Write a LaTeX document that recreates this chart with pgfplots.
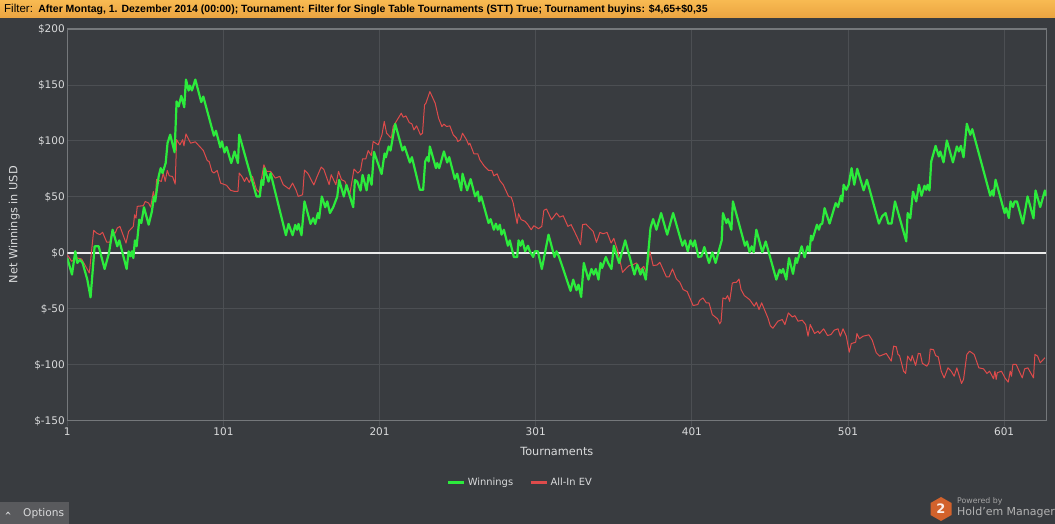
\documentclass[border=0pt]{standalone}
\usepackage{pgfplots}
\usepackage{fontspec}
\setmainfont{DejaVu Sans}
\newfontfamily\barfont{Liberation Sans}
\pgfplotsset{compat=1.18}
\definecolor{bg}{HTML}{393C40}
\definecolor{gridc}{HTML}{4C4F53}
\definecolor{axc}{HTML}{75787B}
\definecolor{txt}{HTML}{DADBDC}
\definecolor{grn}{HTML}{2CEB3C}
\definecolor{rd}{HTML}{DE4B4B}
\definecolor{bart}{HTML}{F8BA52}
\definecolor{barb}{HTML}{EBA441}
\definecolor{logoc}{HTML}{D2622C}
\begin{document}
\begin{tikzpicture}[x=1pt,y=1pt]
\fill[bg] (0,0) rectangle (1055,524);
\shade[top color=bart,bottom color=barb] (0,506) rectangle (1055,524);
\node[anchor=west,inner sep=0pt,font=\barfont\fontsize{10.5}{12}\selectfont,text=black] at (4,515) {\fontsize{11.5}{12}\selectfont Filter:\hspace{1.5pt}\fontsize{10.5}{12}\selectfont\textbf{ After Montag, 1. Dezember 2014 (00:00); Tournament: Filter for Single Table Tournaments (STT) True; Tournament buyins: \$4,65+\$0,35}};
\fill[gray!45!bg] (0,0) rectangle (69,22);
\node[anchor=west,inner sep=0pt,font=\fontsize{10.6}{12}\selectfont,text=txt] at (23,10.5) {Options};
\fill[txt] (5.5,9.5) -- (8,12.5) -- (10.5,9.5) -- (9.5,9.5) -- (8,11) -- (6.5,9.5) -- cycle;
\fill[logoc] (941,27) -- (951.5,21) -- (951.5,9) -- (941,3) -- (930.5,9) -- (930.5,21) -- cycle;
\node[inner sep=0pt,font=\bfseries\fontsize{13}{13}\selectfont,text=white!90!logoc] at (941,15) {2};
\node[anchor=west,inner sep=0pt,font=\fontsize{7.8}{9}\selectfont,text=gray!70!white] at (957,23) {Powered by};
\node[anchor=west,inner sep=0pt,font=\fontsize{11}{12}\selectfont,text=gray!60!white] at (957,11.5) {Hold'em Manager};
\begin{axis}[
 at={(67.3pt,103.6pt)},anchor=south west,
 scale only axis,width=979pt,height=391.4pt,
 xmin=1,xmax=628,ymin=-150,ymax=200,
 axis background/.style={fill=bg},
 axis line style={color=axc,line width=1.6pt},
 grid=major,grid style={gridc,line width=0.8pt},
 tick align=outside,
 major tick length=6pt,
 x tick style={gridc,line width=0.8pt},
 y tick style={draw=none},
 xtick pos=bottom,ytick pos=left,
 xtick={1,101,201,301,401,501,601},
 xticklabels={1,101,201,301,401,501,601},
 ytick={-150,-100,-50,0,50,100,150,200},
 yticklabels={\$-150,\$-100,\$-50,\$0,\$50,\$100,\$150,\$200},
 tick label style={text=txt,font=\fontsize{10.5}{11}\selectfont},
 xticklabel style={yshift=2.5pt},
 yticklabel style={xshift=7pt,yshift=-0.5pt},
 xlabel={Tournaments},ylabel={Net Winnings in USD},
 label style={text=txt,font=\fontsize{11.3}{13}\selectfont},
 xlabel style={at={(axis description cs:0.5,0)},anchor=center,yshift=-31pt},
 ylabel style={at={(axis description cs:0,0.5)},anchor=center,yshift=53pt},
 legend style={at={(0.4625,-0.159)},anchor=center,fill=none,draw=none,legend columns=2,
   font=\fontsize{9.9}{11}\selectfont,text=txt,inner sep=0pt,
   /tikz/every even column/.append style={column sep=14pt}},
 legend image code/.code={\draw[#1,line width=3pt] (0,0) -- (16.5pt,0);},
 clip=true,
]
\addplot[white!92!black,line width=2pt,forget plot] coordinates {(1,0)(628,0)};
\addplot[rd,line width=1pt,line join=round,forget plot] coordinates {
(1,-1.8)(3.8,-7.7)(5.3,-6.3)(6.1,-3.3)(7.4,-4.8)(10.2,-5.7)(15.1,-18.2)(17.9,19.9)(19.8,17.5)(21.9,16.1)(23.6,18.2)(26.2,9.5)(28.3,9.5)(29.6,19)(31.7,17.5)(33,22)(34.7,23.5)(38.6,8.6)(40.3,19)(43.3,23.5)(44.1,33.9)(45,30.9)(45.8,41.4)(49.7,42)(50.9,45.8)(53.1,44.3)(54.4,40.8)(56.1,54.6)(57.3,47.2)(58.2,65.5)(61.2,63.7)(62.5,71.1)(63.7,63.7)(65,73.5)(66.3,68.7)(68.4,68.1)(70.1,61.3)(71,101.1)(73.1,96.4)(74.9,101)(75.7,95.5)(77,106.2)(80,97.9)(83,99.1)(88.1,91.4)(90.6,82.5)(91.9,81.3)(93.6,72.7)(94.9,71.2)(97,73.5)(99.2,62.2)(103,60.2)(105.6,55.7)(108.1,54.8)(110.3,54.8)(111.1,71.2)(112.8,68.2)(114.5,63.7)(115.8,67.3)(117.5,62.8)(119.6,68.2)(122.2,56.3)(123.9,53.9)(126.9,78.6)(128.6,72.7)(131.2,72.7)(134.2,66.7)(137.1,68.2)(139.3,60.8)(143.1,56.9)(145.3,62.2)(147.4,56.3)(148.9,50.3)(151.7,51.8)(152.9,73.8)(155.1,70.8)(158.9,60.5)(161,68.1)(163.6,76.5)(165.3,74.4)(168.7,60.8)(170,69.7)(173,60.8)(174.7,72.7)(176.6,65.3)(178.8,63.8)(182,52.7)
(184.6,74.7)(187.1,71.1)(188.8,73.5)(190.1,83.9)(192.2,83.9)(193.7,91.3)(195.7,86.8)(196.9,99.4)(200.1,96.4)(202.5,105.3)(204,117.3)(205.5,106.8)(208.5,102.3)(209.7,112.8)(214.9,124.7)(216.1,121.1)(217.9,122.3)(220,116.3)(221.7,115.2)(223,109.8)(224.7,113.4)(227.2,105.3)(228.5,106.8)(229.8,132.2)(230.7,133.7)(233.2,144)(236.6,133.7)(238.8,120.2)(240.9,112.8)(242.2,114.9)(243.9,112.8)(246,113.4)(248.2,105.3)(250.3,102.3)(251.1,99.4)(252.8,100.9)(254.1,106.8)(256.7,100.9)(258,96.4)(258.8,97.9)(261.4,88.4)(263.9,88.4)(265.2,83.1)(268.2,77.1)(270.8,73.5)(272.9,73.5)(274.2,68.7)(276.3,70.5)(278,64.5)(280.2,60.7)(283.6,50.3)(285.3,49.7)(286.6,44.3)(289.1,25.9)(290,34.8)(291.7,29.5)(294.2,28)(296,25)(298.1,20.5)(299.8,24.1)(302.8,21.4)(304.9,23.5)(306.2,37.8)(307.9,39)(311.1,29.5)(314.3,35.4)(316.4,31.8)(318.6,33)(321.6,23.5)(323.7,25)(327.1,15.2)(329.7,7.1)(331,25)(333.1,25.6)(335.6,22)(337.8,19)(339.9,9.2)(342.1,18.1)(344.2,16.9)(346.7,18.1)(349.3,8.6)(351,12.8)(353.6,1.2)(356.6,-17.6)(359.1,-13.7)(360.8,-11.6)(363.4,-10.7)(365.5,-9.2)(368.1,-15.2)(370.2,-12.2)(371.9,-18.2)(374.1,1.2)(376.2,-11.6)(378.8,-11)(380.5,-8.6)(384.7,-21.7)(386.4,-21.7)(388.6,-14.6)(391.1,-23.5)(393.3,-26.5)(395.4,-33)(398,-34.8)(401.8,-47.3)(404.8,-46.4)(406,-42.6)
(408.1,-40.5)(410.3,-45)(412,-45)(414.1,-55.4)(417.5,-59.2)(418.8,-63.7)(419.7,-61.6)(420.9,-40.5)(422.6,-41.4)(423.9,-38.4)(425.2,-43.5)(426.9,-27.2)(428.2,-26.6)(429.5,-26.6)(431.2,-23.6)(432.5,-33)(434.6,-38.4)(438,-42)(441,-47.9)(442.3,-44.3)(444,-50.9)(445.7,-44.9)(449.7,-58.3)(451.2,-65.2)(452.9,-67.6)(456.1,-61.3)(458.9,-59.8)(460.6,-64.3)(462.8,-53.9)(465.3,-57.5)(467,-56.3)(469,-61.3)(471.7,-60.4)(473.9,-64.3)(475.4,-74.7)(476.8,-64.3)(479.6,-72.3)(481.8,-70.2)(482.8,-72.3)(485.4,-68.1)(487.9,-74.1)(490.1,-73.2)(492.2,-69.3)(494.6,-68.1)(496.1,-74.7)(497.8,-68.1)(499.9,-74.7)(501.8,-89)(503.1,-81.3)(505.9,-80.1)(506.7,-72.3)(508.4,-77)(510.6,-74.7)(514.4,-73.5)(516.5,-78.2)(519.1,-89.5)(521.2,-92.5)(525.5,-90.1)(528.7,-97)(530.2,-83.6)(531.9,-84.2)(533,-91)(534,-92)(536.6,-106)(537.9,-108)(539.2,-92.5)(541.3,-97)(542.1,-92)(544.3,-100.9)(546,-90.1)(547.3,-90.4)(548.6,-99)(551.5,-101.5)(552.8,-98.5)(553.7,-86.2)(555.8,-86.8)(557.1,-92)(558.8,-93.2)(560.7,-106)(562.6,-112)(565,-103)(567.1,-106)(569,-110.5)(570.7,-103)(573.7,-117)(575,-113.4)(577.1,-91)(578.9,-88.1)(581.8,-91)(584.8,-103)(587.8,-103.9)(590,-108)(591.7,-106)(594.2,-112.8)(595.1,-106)(595.9,-113.4)(596.6,-107.4)(599.3,-106)(601.5,-112)(603.6,-115.8)(604.9,-106)(605.7,-110.5)(606.6,-100)(608.7,-100)(612.6,-112)(614.1,-103.9)(616.2,-103)(619.8,-112)(620.7,-91)(622.4,-92.5)(624.1,-98.5)(627.1,-94)
};
\addplot[grn,line width=2.2pt,line join=round] coordinates {
(1,-4.8)(4,-19.6)(6.1,1.2)(7.4,-9.2)(9.1,-6.3)(10.8,-9.2)(13.8,-24)(15.9,-40)(18.5,5.7)(21.1,5.7)(24.9,-14.6)(27.7,-0.3)(30,20.5)(33,5.7)(34.3,11)(39,-14.6)(40.3,1.2)(41.5,-3.3)(42.4,1.2)(43.3,-4.8)(44.3,11)(45.4,5.7)(47.1,29.5)(48.4,26.5)(50.1,40.6)(53.1,25)(55.2,37)(56.5,50.2)(57.3,45.8)(59.5,68.1)(60.8,75.6)(62,71.1)(64,80.1)(65.2,98)(66.9,105.5)(69.7,89.8)(71,135.2)(72.3,130.7)(74,140.2)(75.9,130)(77,154.8)(78.7,145)(79.5,149.4)(80.8,145)(83,154.8)(86.8,134.6)(88.1,139.6)(94.9,104.6)(96.2,109)(99,94.2)(100,99.5)(101.7,89.6)(103,94.6)(106,80.1)(108.1,90.5)(110.3,80.1)(111.1,105.5)(122.2,50.2)(124.3,50.2)(125.4,65)(126.5,60.5)(127.3,75.4)(129.9,63.5)(131.2,71)(141,15.6)(142.7,25.7)(145.3,15.6)(147,24.8)(148.2,20.4)(149.1,25.7)(151,15.6)(152.9,45.8)(156.8,25.7)(158.5,30.8)(159.8,25.7)(161.5,35.4)(162.3,30.8)(164,50.2)(166.2,40.6)(167.5,45.8)(169.2,35.4)(171.3,40.6)(173.9,50.2)(175.1,65)(178.1,50.2)(179.8,60.5)(182,50.3)
(184.1,40.7)(185.2,65)(186.7,63.5)(188.8,55.5)(190.1,69.5)(192.7,55.7)(194,69.6)(195.9,60.7)(197.4,90.2)(202.3,70.3)(204.2,88.7)(205,85.2)(206.8,94.9)(208,91.3)(211,115.2)(215.7,91.3)(217,94.9)(220.4,80.6)(221.7,85.4)(226.8,56.2)(228.9,56.2)(230.2,81.5)(231.5,85.4)(232.4,81.5)(233.2,94.9)(237.1,75.6)(237.9,80.1)(239.2,75.6)(242.2,90.5)(244.3,80.6)(245.6,85.4)(249.2,65.8)(250.7,70.6)(253.3,55.7)(254.1,70.6)(257.1,55.7)(259.3,65.8)(262.2,50.3)(263.9,54.7)(264.8,45.8)(266.1,50.3)(270.8,26.5)(272.1,30)(274.2,20.5)(275.5,25.9)(276.7,20.5)(278,25)(279.1,16.1)(280.6,20.5)(283.2,6.2)(284.4,11)(287,-3.9)(289.1,-3.9)(290,11)(291.3,6.2)(292.5,11)(294.2,1.2)(296,6.2)(297.2,1.2)(299.4,-3.9)(300.4,1.2)(302.4,1.2)(304.9,-14.6)(309.2,16.1)(313,-3.9)(314.3,1.2)(316,-3.9)(323.3,-34.2)(325,-24.1)(327.1,-33.6)(328.4,-28.6)(330.1,-39.6)(331.8,-9.2)(334.8,-24.1)(336.7,-14.6)(338.2,-19.6)(339.5,-14.6)(341.2,-24.1)(342.5,-9.2)(343.5,-13.7)(345.9,-3.9)(347.4,-9.2)(349.5,-14.6)(351,6.2)(354.4,-9.2)(358.3,11)(364.2,-19.6)(366,-10.7)(368.1,-19.6)(369.4,-14.6)(371.5,-24.1)(374.5,22)(376.2,30)(378.3,20.5)(381.3,35.4)(385.2,16.1)(389,35.4)(395,6.2)(396.5,11)(398.4,1.2)(400.1,11)(401.8,5.6)(402.9,11)(405.2,-3.9)
(407.1,-3.3)(409,5)(412,-9.2)(414.1,0.3)(416.2,-9.2)(420.1,11)(420.9,35.4)(423.1,26.5)(424.1,30)(426.3,20.5)(427.3,45.8)(435,6.2)(436.3,10)(438,0.3)(439.3,5.7)(440.6,0.3)(442.3,20.5)(446.1,0.3)(448.3,10)(455.1,-24.1)(457.2,-15.2)(458.3,-18.1)(459.4,-14.6)(461.5,-24.1)(463.2,-4.8)(465.8,-19)(467.5,-4.8)(468.3,-9.2)(471.3,5.7)(473.2,-4.2)(475.1,5.7)(476.4,1.2)(477.3,15.2)(478.1,11)(481.1,25)(482.4,20.5)(483.3,25)(484.5,26)(486,39.8)(489.2,26)(493.1,44.3)(494.6,40.8)(496.5,50.9)(497.3,45.8)(498.2,60.7)(499.9,56.2)(501.4,60.7)(503.3,75.6)(505,60.7)(506.9,75)(511,55.7)(513.1,65.2)(520.8,26)(522.9,32.6)(525.1,35.4)(526.8,26)(528.9,26)(531.1,45.8)(538.3,10.1)(539.2,35.4)(540.9,30.8)(542.6,54.6)(544.7,45.8)(546.4,60.7)(548.1,50.9)(550,59.8)(551.1,56.2)(552,60.7)(553.2,55.6)(554.3,81.5)(557.1,95.5)(559.2,86)(560.1,90.5)(562.2,80.7)(564.3,100.3)(568.2,80.7)(570.7,95)(572,90.5)(573.3,95.5)(575,85.3)(577.1,115.2)(579.3,105.4)(580.6,110.4)(592.1,50.9)(593.4,55.6)(594.2,50.9)(595.5,65.2)(601.3,35.4)(602.3,39.9)(604,31)(605.1,45.8)(606.6,40.8)(607.7,45.8)(609.2,45.8)(613,26)(616,50.3)(619.8,30.7)(621.1,55.6)(624.1,40.8)(627.1,55.6)(627.9,50.9)
};
\addlegendentry{Winnings}
\addlegendimage{rd,line width=3pt}
\addlegendentry{All-In EV}
\end{axis}
\end{tikzpicture}
\end{document}
